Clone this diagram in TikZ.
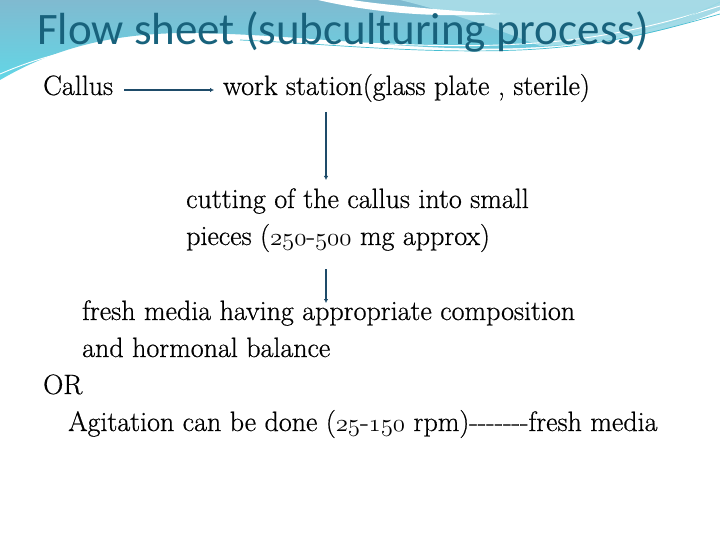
\documentclass[tikz,border=0pt]{standalone}
\usepackage{fontspec}
\usetikzlibrary{arrows.meta}
\setmainfont{Latin Modern Roman}[Ligatures=NoCommon, FakeBold=0.6]
\newfontfamily\titlefont{Carlito}
\newcommand\osn[1]{{\fontencoding{OML}\fontfamily{lmm}\fontseries{b}\fontshape{it}\selectfont #1}}
\definecolor{titlecol}{RGB}{24,98,124}
\definecolor{arrcol}{RGB}{30,75,105}
\definecolor{waveA}{RGB}{128,186,208}
\definecolor{waveB}{RGB}{98,214,230}
\definecolor{waveC}{RGB}{176,226,236}
\definecolor{waveLine}{RGB}{70,190,210}
\tikzset{
  body/.style={anchor=base west, inner sep=0pt, font=\fontsize{28}{32}\selectfont, text=black},
  flow/.style={draw=arrcol, line width=1.6pt, -{Latex[length=4pt,width=4.5pt]}},
}
\begin{document}
\begin{tikzpicture}[x=1pt,y=-1pt]
\useasboundingbox (0,0) rectangle (720,540);
\fill[white] (0,0) rectangle (720,540);
% top wave
\shade[top color=waveA, bottom color=waveB]
  (0,0) -- (720,0) -- (720,10)
  .. controls (680,28) and (620,44) .. (520,48)
  .. controls (420,52) and (320,36) .. (200,33)
  .. controls (120,32) and (60,45) .. (0,80) -- cycle;
\fill[waveC, opacity=0.8]
  (400,0) -- (720,0) -- (720,10)
  .. controls (680,28) and (620,44) .. (540,46)
  .. controls (500,30) and (450,12) .. (400,0) -- cycle;
\fill[white]
  (318,0) .. controls (370,12) and (430,18) .. (500,14)
  .. controls (440,10) and (385,5) .. (352,0) -- cycle;
\draw[white, line width=0.9pt]
  (0,74) .. controls (60,48) and (120,38) .. (220,38)
  .. controls (320,38) and (420,50) .. (520,44)
  .. controls (600,40) and (660,25) .. (720,6);
\draw[waveLine, line width=0.7pt]
  (240,40) .. controls (330,44) and (420,54) .. (520,50)
  .. controls (610,46) and (670,28) .. (720,14);
\draw[waveLine!60, line width=0.5pt]
  (600,40) .. controls (650,30) and (690,18) .. (720,2);
% title
\node[anchor=base west, inner sep=0pt, text=titlecol, font=\titlefont\fontsize{45}{50}\selectfont]
  (title) at (37,45) {Flow sheet (subculturing process)};
% body
\node[body] (callus) at (43,95) {Callus};
\node[body] (ws) at (223,95) {work station(glass plate , sterile)};
\node[body] (cut1) at (186,208) {cutting of the callus into small};
\node[body] (cut2) at (186,245) {pieces (\osn{250}-\osn{500} mg approx)};
\node[body] (fresh1) at (82,320) {fresh media having appropriate composition};
\node[body] (fresh2) at (82,357) {and hormonal balance};
\node[body] (or) at (43,394) {OR};
\node[body] (agit) at (68,431) {Agitation can be done (\osn{25}-\osn{150} rpm)-{}-{}-{}-{}-{}-{}-fresh media};
% connectors
\coordinate (a1s) at (124,90);
\coordinate (a1e) at (214,90);
\coordinate (a2s) at (326,112);
\coordinate (a2e) at (326,180);
\coordinate (a3s) at (326,269);
\coordinate (a3e) at (326,303);
\draw[flow] (a1s) -- (a1e);
\draw[flow] (a2s) -- (a2e);
\draw[flow] (a3s) -- (a3e);
\end{tikzpicture}
\end{document}
